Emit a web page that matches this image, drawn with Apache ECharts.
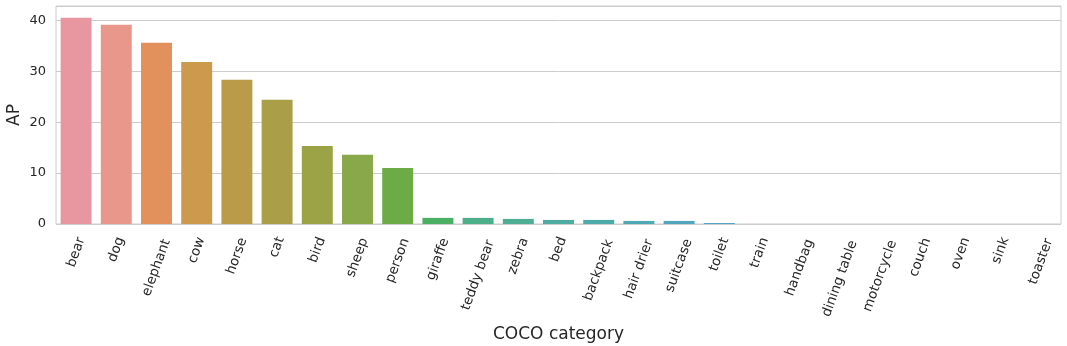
<!DOCTYPE html>
<html>
<head>
<meta charset="utf-8">
<script src="https://cdn.jsdelivr.net/npm/echarts@6/dist/echarts.min.js"></script>
<style>
  html, body { margin: 0; padding: 0; background: #fff; }
  #chart { width: 1067px; height: 346px; }
</style>
</head>
<body>
<div id="chart"></div>
<script>
// categories along the x axis
const categories = ['bear', 'dog', 'elephant', 'cow', 'horse', 'cat', 'bird', 'sheep', 'person',
  'giraffe', 'teddy bear', 'zebra', 'bed', 'backpack', 'hair drier', 'suitcase', 'toilet',
  'train', 'handbag', 'dining table', 'motorcycle', 'couch', 'oven', 'sink', 'toaster']

// AP per category
const apValues = [40.5, 39.1, 35.6, 31.8, 28.3, 24.4, 15.3, 13.6, 11.0,
  1.2, 1.2, 1.0, 0.8, 0.8, 0.6, 0.6, 0.2,
  0, 0, 0, 0, 0, 0, 0, 0]

// seaborn-ish husl palette (desaturated)
const barColors = ['#e8969f', '#e8978a', '#e2915c', '#cc9a4d', '#b99b4a', '#aa9f48', '#9ca346',
  '#88a84a', '#6dab47', '#4bb063', '#4daf89', '#4dae94', '#4dac9f', '#4caba8', '#4ea9b3',
  '#51a6be', '#57a2c9', '#6c9bd3', '#8d93d8', '#a98bd8', '#c584d1', '#d77fc0', '#e283ae',
  '#e88aa2', '#e8929e']

const yTicks = { min: 0, max: 42.8, interval: 10 }

const FONT = 'DejaVu Sans'
const LABEL_SIZE = 13.5

// matplotlib centres rotated labels on the tick; echarts anchors the end.
// push each label right by half its horizontal extent using top padding.
const ctx = document.createElement('canvas').getContext('2d')
ctx.font = LABEL_SIZE + 'px "' + FONT + '"'
const rich = {}
categories.forEach((c, i) => {
  const w = ctx.measureText(c).width
  rich['l' + i] = { fontSize: LABEL_SIZE, color: '#262626', padding: [0.364 * w, 0, 0, 0] }
})

const chart = echarts.init(document.getElementById('chart'))

const option = {
  animation: false,
  textStyle: { fontFamily: FONT },
  grid: {
    left: 56, right: 6, top: 6, bottom: 122,
    outerBoundsMode: 'none',
    containLabel: false,
    show: true, borderColor: '#cccccc', borderWidth: 1
  },
  xAxis: {
    type: 'category',
    data: categories,
    name: 'COCO category',
    nameLocation: 'middle',
    nameGap: 102,
    nameMoveOverlap: false,
    nameTextStyle: { fontSize: 17, color: '#262626' },
    axisLine: { show: false },
    axisTick: { show: false },
    axisLabel: {
      interval: 0,
      rotate: 70,
      fontSize: LABEL_SIZE,
      color: '#262626',
      margin: 12,
      formatter: (v, i) => '{l' + i + '|' + v + '}',
      rich: rich
    }
  },
  yAxis: {
    type: 'value',
    min: yTicks.min,
    max: yTicks.max,
    interval: yTicks.interval,
    name: 'AP',
    nameLocation: 'middle',
    nameGap: 33,
    nameMoveOverlap: false,
    nameTextStyle: { fontSize: 17, color: '#262626' },
    axisLine: { show: false },
    axisTick: { show: false },
    axisLabel: { fontSize: 13, color: '#262626', margin: 10, showMaxLabel: false },
    splitLine: { lineStyle: { color: '#cccccc', width: 1 } }
  },
  series: [{
    type: 'bar',
    barCategoryGap: '23%',
    data: apValues.map((v, i) => ({ value: v, itemStyle: { color: barColors[i] } }))
  }]
}

chart.setOption(option)
</script>
</body>
</html>
